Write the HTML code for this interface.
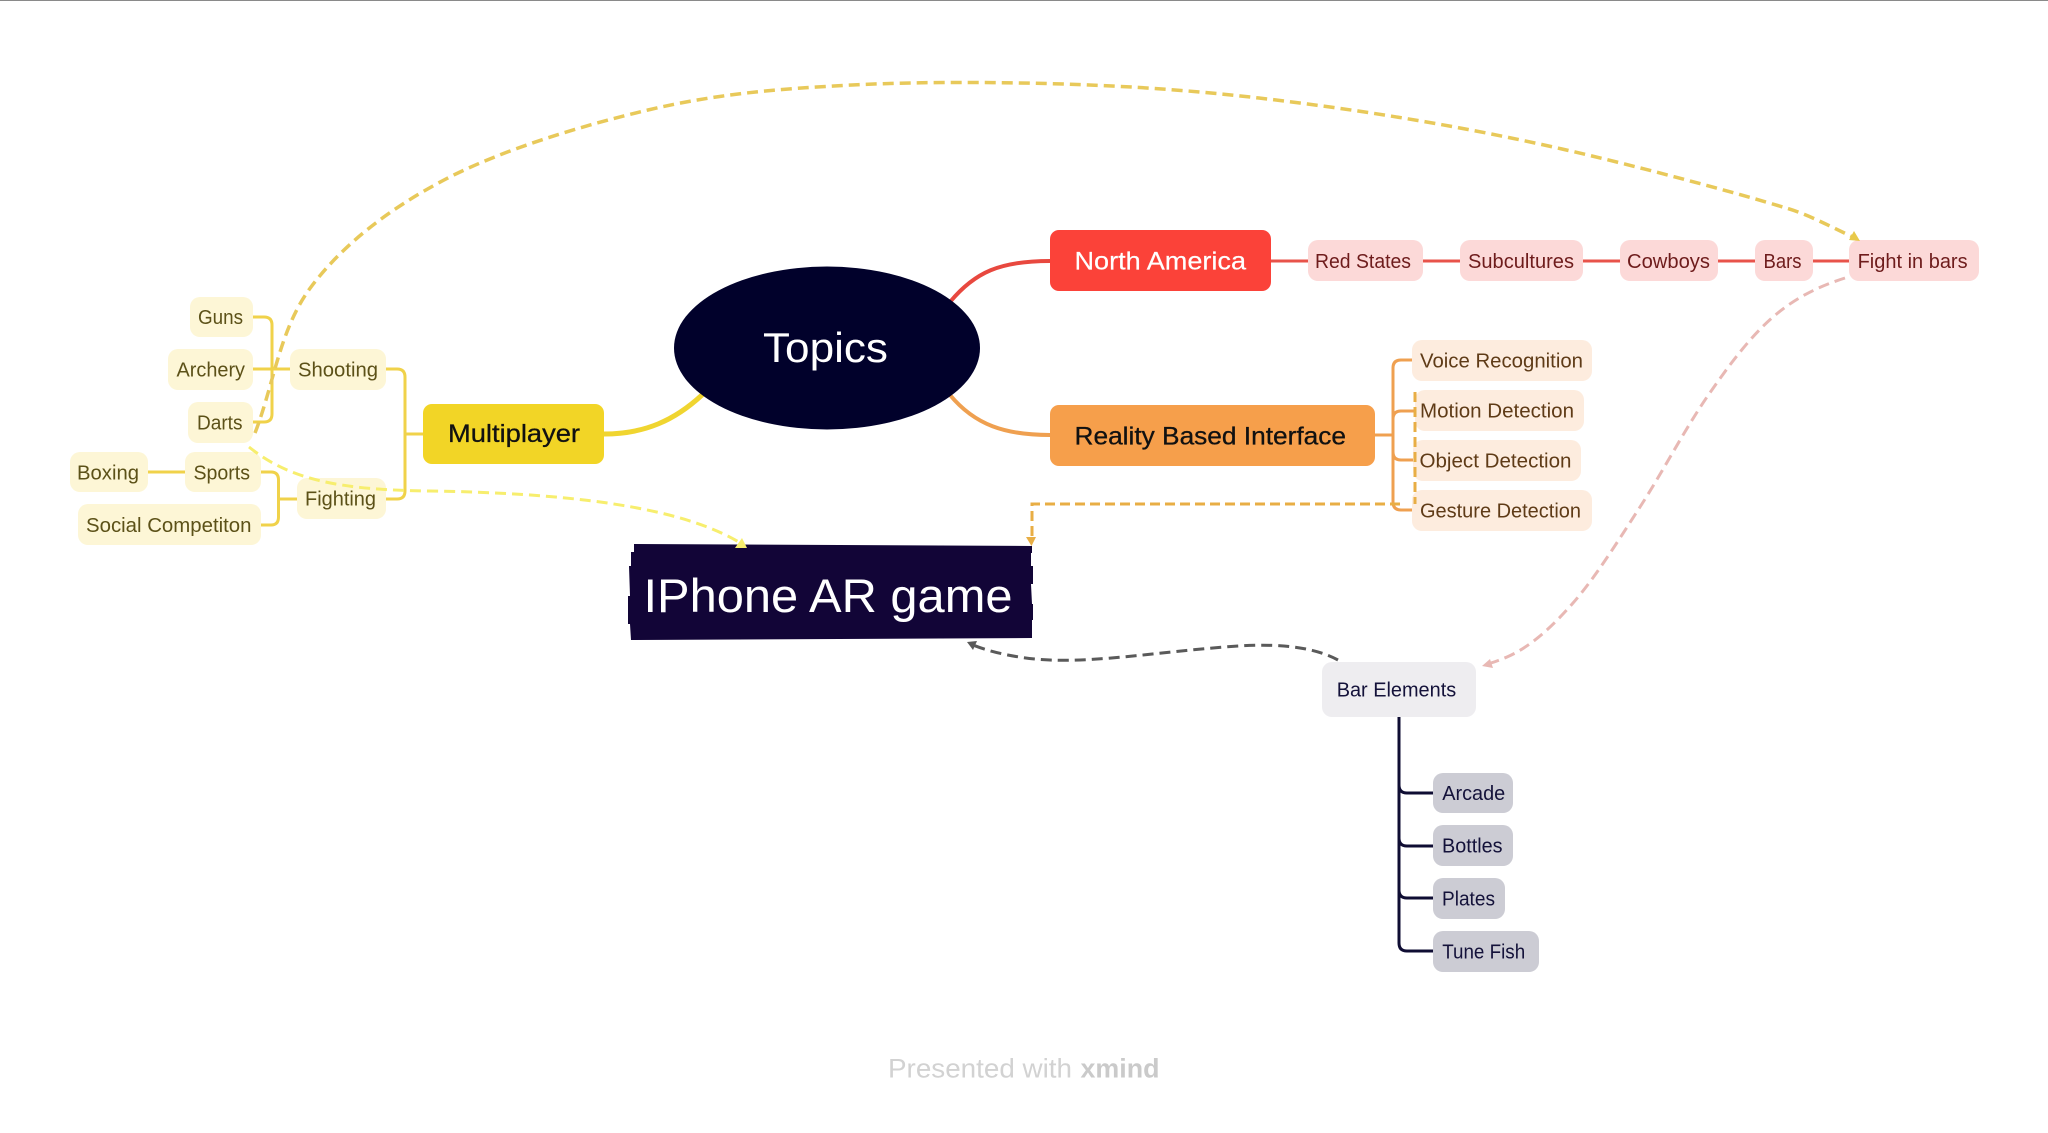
<!DOCTYPE html>
<html><head><meta charset="utf-8"><style>
html,body{margin:0;padding:0;background:#fff;width:2048px;height:1133px;overflow:hidden}
svg{display:block}
text{font-family:"Liberation Sans",sans-serif}
.s{font-size:20px}
.y{fill:#5c5118}.r{fill:#6e1c1c}.o{fill:#5f3b17}.k{fill:#14123a}
</style></head><body>
<svg width="2048" height="1133" viewBox="0 0 2048 1133" xmlns="http://www.w3.org/2000/svg">
<rect width="2048" height="1133" fill="#fff"/>
<rect width="2048" height="1" fill="#8a8a8a"/>
<g fill="none" stroke-linecap="round">
<path d="M950 302C975 272 1000 261 1050 261" stroke="#E8483F" stroke-width="4"/>
<path d="M950 395C975 425 1005 435 1050 435" stroke="#EFA050" stroke-width="4"/>
<path d="M702 395C675 420 645 434 604 434" stroke="#F0D530" stroke-width="5"/>
<g stroke="#F0D24A" stroke-width="3">
<path d="M386 369H397Q405 369 405 377V491Q405 499 397 499H386M405 434H423"/>
<path d="M253 317H264Q272 317 272 325V414Q272 422 264 422H253M253 369H290"/>
<path d="M260 472H271Q278.500 472 278.500 480V517Q278.500 525 271 525H260M278.500 499H297M148 472H185"/>
</g>
<path d="M1271 261H1308M1423 261H1460M1583 261H1620M1718 261H1755M1812 261H1849" stroke="#E8534A" stroke-width="3"/>
<path d="M1375 435H1393M1412 360H1401Q1393 360 1393 368V502Q1393 510 1401 510H1412M1393 419Q1393 411 1401 411H1415M1393 452Q1393 460 1401 460H1413" stroke="#EFA050" stroke-width="3"/>
<path d="M1399 717V943Q1399 951 1407 951H1433M1399 785Q1399 793 1407 793H1433M1399 838Q1399 846 1407 846H1433M1399 890Q1399 898 1407 898H1433" stroke="#0f0d33" stroke-width="3"/>
</g>
<ellipse cx="827" cy="348" rx="153" ry="81.500" fill="#01012B"/>
<rect x="423" y="404" width="181" height="60" rx="9" fill="#F2D526"/>
<rect x="1050" y="230" width="221" height="61" rx="9" fill="#FB4239"/>
<rect x="1050" y="405" width="325" height="61" rx="9" fill="#F69F4B"/>
<g fill="#FDF6D6">
<rect x="190" y="297" width="63" height="40" rx="10"/>
<rect x="168" y="349" width="85" height="41" rx="10"/>
<rect x="290" y="349" width="96" height="41" rx="10"/>
<rect x="188" y="402" width="65" height="41" rx="10"/>
<rect x="70" y="452" width="78" height="40" rx="10"/>
<rect x="185" y="452" width="76" height="40" rx="10"/>
<rect x="297" y="478" width="89" height="41" rx="10"/>
<rect x="78" y="504" width="183" height="41" rx="10"/>
</g>
<g fill="#FCD9D8">
<rect x="1308" y="240" width="115" height="41" rx="10"/>
<rect x="1460" y="240" width="123" height="41" rx="10"/>
<rect x="1620" y="240" width="98" height="41" rx="10"/>
<rect x="1755" y="240" width="58" height="41" rx="10"/>
<rect x="1849" y="240" width="130" height="41" rx="10"/>
</g>
<g fill="#FDECDE">
<rect x="1412" y="340" width="180" height="41" rx="10"/>
<rect x="1415" y="390" width="169" height="41" rx="10"/>
<rect x="1413" y="440" width="168" height="41" rx="10"/>
<rect x="1412" y="490" width="180" height="41" rx="10"/>
</g>
<rect x="1322" y="662" width="154" height="55" rx="10" fill="#EEEDF0"/>
<g fill="#CCCCD4">
<rect x="1433" y="773" width="80" height="40" rx="10"/>
<rect x="1433" y="825" width="80" height="41" rx="10"/>
<rect x="1433" y="878" width="72" height="41" rx="10"/>
<rect x="1433" y="931" width="106" height="41" rx="10"/>
</g>
<polygon fill="#120537" points="634,544 1032,546 1032,553 1031,553 1031,566 1033,566 1033,584 1031,584 1032,604 1033,604 1033,620 1032,620 1032,638 631,640 630,624 628,624 628,596 630,596 629,566 631,566 631,552 634,552"/>
<g fill="none" stroke-width="3">
<path d="M255 433C274 384 279.500 329 311 287C342.500 245 388 209.500 444 180C500 150.500 580 126 648 110C716 94 775 89 852 85C929 81 1031 82 1112 86C1193 90 1262 97.500 1337 108C1412 118.500 1487 132 1562 149C1637 166 1737 193 1786 208C1810 215 1833 228 1855 238" stroke="#E8C95A" stroke-width="3.500" stroke-dasharray="11 6"/>
<path d="M249 447C290 480 340 490 430 491C560 493 680 505 742 544" stroke="#F7EE6E" stroke-dasharray="11 6"/>
<path d="M1400 504H1032V538" stroke="#E8AE45" stroke-dasharray="10 5"/>
<path d="M1415 392V504" stroke="#E8AE45" stroke-dasharray="10 5"/>
<path d="M1845 278C1820 286 1796 297 1773 317C1750 337 1729 365 1707 397C1685 429 1662 473 1640 507C1618 541 1595 578 1573 603C1551 628 1530 647 1507 657C1500 660 1494 662 1488 664" stroke="#E8B8B4" stroke-dasharray="11 6"/>
<path d="M1338 660C1310 645 1270 643 1225 647C1160 652 1100 662 1050 660C1020 659 990 652 973 645" stroke="#5a5a5a" stroke-dasharray="11 6"/>
</g>
<polygon points="1026,537 1036,537 1031.500,546" fill="#E8AE45"/>
<polygon points="735,548 747,548 742,538" fill="#F7EE6E"/>
<polygon points="1849,240 1860,241 1854,231" fill="#E8C94A"/>
<polygon points="1482,666 1490,659 1493,668" fill="#E8B8B4"/>
<polygon points="967,642 977,641 973,650" fill="#5a5a5a"/>
<text x="763" y="362" font-size="42" fill="#fff" textLength="125" lengthAdjust="spacingAndGlyphs">Topics</text>
<text x="643.500" y="612" font-size="47" fill="#fff" textLength="369" lengthAdjust="spacingAndGlyphs">IPhone AR game</text>
<text x="448" y="442" font-size="25" fill="#111" stroke="#111" stroke-width=".3" textLength="132" lengthAdjust="spacingAndGlyphs">Multiplayer</text>
<text x="1074.500" y="269.500" font-size="25" fill="#fff" stroke="#fff" stroke-width=".2" textLength="171.500" lengthAdjust="spacingAndGlyphs">North America</text>
<text x="1074.500" y="444.500" font-size="25" fill="#111" stroke="#111" stroke-width=".3" textLength="271.500" lengthAdjust="spacingAndGlyphs">Reality Based Interface</text>
<g class="s">
<text class="y" x="198" y="324" textLength="45" lengthAdjust="spacingAndGlyphs">Guns</text>
<text class="y" x="176.500" y="376.700" textLength="68.500" lengthAdjust="spacingAndGlyphs">Archery</text>
<text class="y" x="298" y="376.700" textLength="80" lengthAdjust="spacingAndGlyphs">Shooting</text>
<text class="y" x="197" y="429.300" textLength="45.500" lengthAdjust="spacingAndGlyphs">Darts</text>
<text class="y" x="77" y="479.300" textLength="62" lengthAdjust="spacingAndGlyphs">Boxing</text>
<text class="y" x="193.500" y="479.300" textLength="56.500" lengthAdjust="spacingAndGlyphs">Sports</text>
<text class="y" x="305" y="505.300" textLength="71" lengthAdjust="spacingAndGlyphs">Fighting</text>
<text class="y" x="86" y="532" textLength="165.500" lengthAdjust="spacingAndGlyphs">Social Competiton</text>
<text class="r" x="1315" y="268" textLength="96" lengthAdjust="spacingAndGlyphs">Red States</text>
<text class="r" x="1468" y="268" textLength="106" lengthAdjust="spacingAndGlyphs">Subcultures</text>
<text class="r" x="1627" y="268" textLength="83" lengthAdjust="spacingAndGlyphs">Cowboys</text>
<text class="r" x="1763.500" y="268" textLength="38" lengthAdjust="spacingAndGlyphs">Bars</text>
<text class="r" x="1857.600" y="268" textLength="110" lengthAdjust="spacingAndGlyphs">Fight in bars</text>
<text class="o" x="1420" y="367.700" textLength="163" lengthAdjust="spacingAndGlyphs">Voice Recognition</text>
<text class="o" x="1420" y="417.700" textLength="154" lengthAdjust="spacingAndGlyphs">Motion Detection</text>
<text class="o" x="1419.500" y="467.700" textLength="152" lengthAdjust="spacingAndGlyphs">Object Detection</text>
<text class="o" x="1420" y="517.300" textLength="161" lengthAdjust="spacingAndGlyphs">Gesture Detection</text>
<text class="k" x="1336.700" y="696.700" textLength="119.500" lengthAdjust="spacingAndGlyphs">Bar Elements</text>
<text class="k" x="1442.200" y="800" textLength="63" lengthAdjust="spacingAndGlyphs">Arcade</text>
<text class="k" x="1442" y="852.700" textLength="60.500" lengthAdjust="spacingAndGlyphs">Bottles</text>
<text class="k" x="1442" y="905.700" textLength="53" lengthAdjust="spacingAndGlyphs">Plates</text>
<text class="k" x="1442.200" y="958.300" textLength="83" lengthAdjust="spacingAndGlyphs">Tune Fish</text>
</g>
<text x="888" y="1077.700" font-size="27" fill="#d2d2d2" textLength="184" lengthAdjust="spacingAndGlyphs">Presented with</text>
<text x="1080.500" y="1077.700" font-size="27" font-weight="bold" fill="#cacaca" textLength="79" lengthAdjust="spacingAndGlyphs">xmind</text>
</svg>
</body></html>
